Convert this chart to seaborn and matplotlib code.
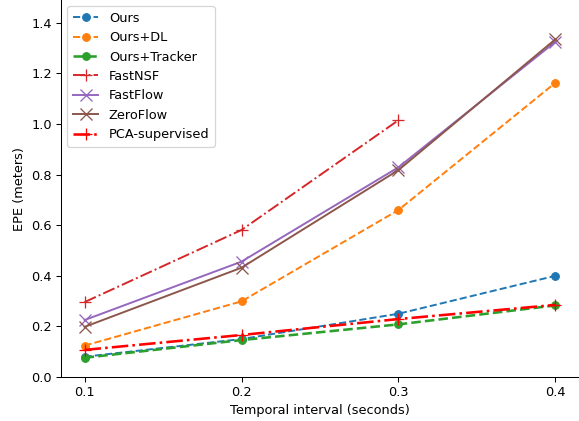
import numpy as np
import pandas as pd
import matplotlib
matplotlib.use('Agg')
import matplotlib.pyplot as plt
import seaborn as sns

intervals = [0.1, 0.2, 0.3, 0.4]
ours = [0.08, 0.15, 0.25, 0.40]
ours_dl = [0.124, 0.299, 0.66, 1.163]
ours_tracker = [0.076, 0.146, 0.208, 0.283]
fastnsf = [0.296, 0.581, 1.015]
fastflow = [0.225, 0.456, 0.829, 1.325]
zeroflow = [0.198, 0.432, 0.818, 1.335]
pca_sup = [0.107, 0.166, 0.229, 0.285]

# original looks like it was drawn a bit larger and scaled down
DPI = 93
fig = plt.figure(figsize=(579 / DPI, 421 / DPI), dpi=DPI)
ax = fig.add_axes([61 / 579, 44 / 421, 518 / 579, 377 / 421])

def draw(vals, label, color, ls, marker, ms, lw=1.5):
    sns.lineplot(x=intervals[:len(vals)], y=vals, ax=ax, label=label, color=color,
                 linestyle=ls, marker=marker, markersize=ms, linewidth=lw,
                 markeredgecolor=color, markeredgewidth=1.0 if marker in '+x' else 0.8)

draw(ours, 'Ours', 'tab:blue', '--', 'o', 6)
draw(ours_dl, 'Ours+DL', 'tab:orange', '--', 'o', 6)
draw(ours_tracker, 'Ours+Tracker', 'tab:green', '--', 'o', 6, lw=2)
draw(fastnsf, 'FastNSF', 'tab:red', '-.', '+', 10)
draw(fastflow, 'FastFlow', 'tab:purple', '-', 'x', 10)
draw(zeroflow, 'ZeroFlow', 'tab:brown', '-', 'x', 10)
draw(pca_sup, 'PCA-supervised', 'red', '-.', '+', 10, lw=2)

ax.set_xticks(intervals)
ax.set_ylim(0, 1.49)
ax.set_xlabel('Temporal interval (seconds)')
ax.set_ylabel('EPE (meters)')
ax.legend(loc='upper left')
sns.despine(ax=ax)

fig.savefig('out.png', dpi=DPI)
